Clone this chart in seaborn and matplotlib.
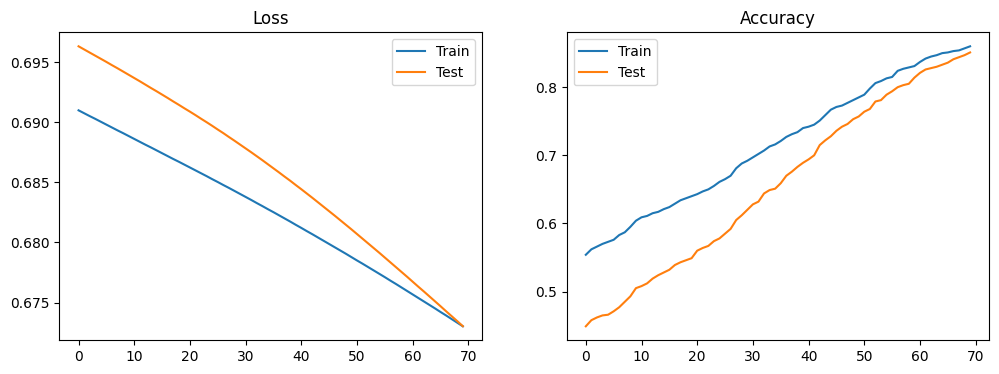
import numpy as np
import matplotlib
matplotlib.use("Agg")
import matplotlib.pyplot as plt
import seaborn as sns

epochs = list(range(70))

train_loss = [
    0.69100, 0.69076, 0.69052, 0.69029, 0.69005, 0.68981, 0.68957, 0.68933, 0.68910, 0.68886,
    0.68862, 0.68838, 0.68814, 0.68791, 0.68767, 0.68743, 0.68719, 0.68695, 0.68672, 0.68648,
    0.68624, 0.68600, 0.68576, 0.68552, 0.68527, 0.68503, 0.68478, 0.68454, 0.68429, 0.68404,
    0.68379, 0.68354, 0.68328, 0.68303, 0.68277, 0.68252, 0.68226, 0.68200, 0.68174, 0.68147,
    0.68121, 0.68094, 0.68068, 0.68041, 0.68014, 0.67987, 0.67960, 0.67933, 0.67906, 0.67878,
    0.67850, 0.67823, 0.67795, 0.67767, 0.67739, 0.67711, 0.67682, 0.67654, 0.67625, 0.67596,
    0.67567, 0.67538, 0.67509, 0.67480, 0.67451, 0.67421, 0.67392, 0.67362, 0.67332, 0.67302,
]

test_loss = [
    0.69633, 0.69607, 0.69581, 0.69555, 0.69529, 0.69503, 0.69476, 0.69450, 0.69423, 0.69396,
    0.69369, 0.69342, 0.69314, 0.69286, 0.69259, 0.69231, 0.69203, 0.69174, 0.69146, 0.69117,
    0.69089, 0.69060, 0.69030, 0.69001, 0.68971, 0.68940, 0.68910, 0.68878, 0.68847, 0.68815,
    0.68783, 0.68751, 0.68718, 0.68685, 0.68651, 0.68617, 0.68583, 0.68548, 0.68514, 0.68478,
    0.68443, 0.68407, 0.68371, 0.68334, 0.68297, 0.68260, 0.68223, 0.68185, 0.68147, 0.68109,
    0.68070, 0.68031, 0.67992, 0.67953, 0.67914, 0.67874, 0.67834, 0.67794, 0.67754, 0.67714,
    0.67673, 0.67632, 0.67592, 0.67551, 0.67510, 0.67469, 0.67427, 0.67386, 0.67345, 0.67303,
]

train_acc = [
    0.554, 0.562, 0.566, 0.570, 0.573, 0.576, 0.583, 0.587, 0.595, 0.604,
    0.609, 0.611, 0.615, 0.617, 0.621, 0.624, 0.629, 0.634, 0.637, 0.640,
    0.643, 0.647, 0.650, 0.655, 0.661, 0.665, 0.670, 0.681, 0.688, 0.692,
    0.697, 0.702, 0.707, 0.713, 0.716, 0.721, 0.727, 0.731, 0.734, 0.740,
    0.742, 0.745, 0.751, 0.759, 0.767, 0.771, 0.773, 0.777, 0.781, 0.785,
    0.789, 0.798, 0.806, 0.809, 0.813, 0.815, 0.824, 0.827, 0.829, 0.831,
    0.837, 0.842, 0.845, 0.847, 0.850, 0.851, 0.853, 0.854, 0.857, 0.860,
]

test_acc = [
    0.449, 0.458, 0.462, 0.465, 0.466, 0.471, 0.477, 0.485, 0.493, 0.505,
    0.508, 0.512, 0.519, 0.524, 0.528, 0.532, 0.539, 0.543, 0.546, 0.549,
    0.560, 0.564, 0.567, 0.574, 0.578, 0.585, 0.592, 0.605, 0.612, 0.620,
    0.628, 0.632, 0.644, 0.649, 0.651, 0.659, 0.670, 0.676, 0.683, 0.689,
    0.694, 0.700, 0.715, 0.722, 0.728, 0.736, 0.742, 0.746, 0.753, 0.757,
    0.764, 0.768, 0.779, 0.781, 0.789, 0.794, 0.800, 0.803, 0.805, 0.814,
    0.821, 0.826, 0.828, 0.830, 0.833, 0.836, 0.841, 0.844, 0.847, 0.851,
]

fig, (ax1, ax2) = plt.subplots(1, 2, figsize=(9.99, 3.74), dpi=100)
fig.subplots_adjust(left=0.0594, right=0.9903, bottom=0.0901, top=0.9136, wspace=0.2)

# loss
sns.lineplot(x=epochs, y=train_loss, ax=ax1, color='tab:blue', label='Train')
sns.lineplot(x=epochs, y=test_loss, ax=ax1, color='tab:orange', label='Test')
ax1.set_title('Loss')
ax1.legend(loc='upper right')

# accuracy
sns.lineplot(x=epochs, y=train_acc, ax=ax2, color='tab:blue', label='Train')
sns.lineplot(x=epochs, y=test_acc, ax=ax2, color='tab:orange', label='Test')
ax2.set_title('Accuracy')
ax2.legend(loc='upper left')

fig.savefig('out.png', dpi=100)
